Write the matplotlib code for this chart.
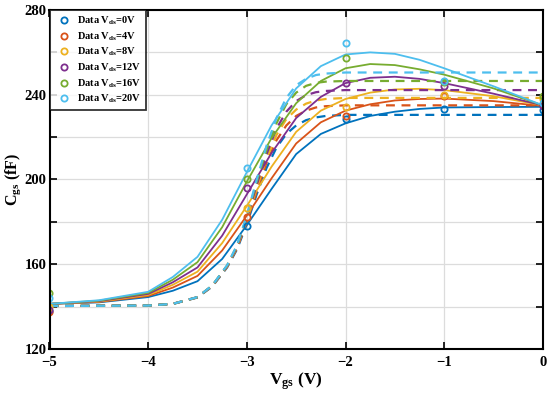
import matplotlib
matplotlib.use("Agg")
import matplotlib.pyplot as plt
import numpy as np

plt.rcParams['font.family'] = ['Liberation Serif', 'DejaVu Serif']
plt.rcParams['font.weight'] = 'bold'
plt.rcParams['mathtext.fontset'] = 'custom'
plt.rcParams['mathtext.rm'] = 'Liberation Serif:bold'
plt.rcParams['mathtext.it'] = 'Liberation Serif:bold'
plt.rcParams['mathtext.bf'] = 'Liberation Serif:bold'

# 六组 Vds
vds_labels = ['0V', '4V', '8V', '12V', '16V', '20V']
colors = ['#0072BD', '#D95319', '#EDB120', '#7E2F8E', '#77AC30', '#4DBEEE']

# 测量数据点
vgs_data = [-5, -3, -2, -1, 0]
cgs_data = [
    [138.0, 178.0, 228.4, 233.1, 233.0],
    [137.5, 182.5, 230.1, 239.4, 235.0],
    [139.7, 186.6, 234.1, 240.0, 238.0],
    [138.5, 196.0, 245.4, 244.0, 234.5],
    [146.3, 200.0, 257.4, 246.0, 239.4],
    [143.9, 205.3, 264.3, 246.5, 236.0],
]

# 实线 (拟合模型)
vgs_fit = [-5, -4.5, -4, -3.75, -3.5, -3.25, -3, -2.75, -2.5, -2.25, -2,
           -1.75, -1.5, -1.25, -1, -0.5, 0]
cgs_fit = [
    [141.3, 142.0, 144.5, 147.5, 152.0, 162.5, 178.5, 195.5, 212.0, 221.5, 226.5,
     230.0, 232.0, 233.3, 234.0, 234.2, 234.3],
    [141.3, 142.2, 145.0, 149.0, 154.5, 166.5, 183.0, 200.5, 217.0, 227.0, 232.5,
     235.5, 237.3, 238.0, 238.2, 237.0, 234.7],
    [141.3, 142.4, 145.5, 150.3, 156.5, 170.0, 187.5, 206.0, 222.5, 232.5, 238.0,
     241.0, 242.5, 242.8, 242.2, 239.3, 235.0],
    [141.3, 142.6, 146.0, 151.5, 158.5, 173.5, 193.0, 212.5, 229.0, 239.0, 245.5,
     248.0, 248.5, 247.5, 245.5, 240.5, 235.0],
    [141.3, 142.8, 146.5, 152.7, 161.0, 177.5, 199.0, 219.5, 236.0, 246.5, 252.5,
     254.5, 254.0, 252.0, 249.5, 243.0, 235.0],
    [141.3, 143.0, 147.0, 154.0, 163.5, 181.0, 203.5, 225.5, 243.0, 253.5, 259.0,
     260.0, 259.3, 256.5, 252.5, 244.0, 235.0],
]

# 虚线 (对比模型)
vgs_dash = [-5, -4, -3.75, -3.5, -3.35, -3.2, -3.1, -3, -2.9, -2.8, -2.7, -2.6,
            -2.5, -2.4, -2.3, -2.2, -2, -1, 0]
cgs_dash = [
    [140.3, 140.5, 141.3, 144.3, 149.5, 158.5, 167.0, 179.0, 193.0, 205.5, 215.0,
     221.5, 225.5, 228.0, 229.3, 230.0, 230.5, 230.5, 230.5],
    [140.3, 140.5, 141.3, 144.4, 149.7, 158.8, 167.5, 180.0, 194.5, 208.0, 218.5,
     225.5, 230.0, 232.5, 234.0, 234.6, 235.0, 235.0, 235.0],
    [140.3, 140.5, 141.3, 144.4, 149.8, 159.0, 168.0, 181.0, 196.0, 210.0, 221.0,
     228.5, 233.0, 235.8, 237.3, 238.0, 238.5, 238.5, 238.5],
    [140.3, 140.5, 141.3, 144.5, 149.9, 159.2, 168.3, 181.7, 197.5, 212.0, 224.0,
     232.0, 237.0, 239.8, 241.2, 241.8, 242.2, 242.2, 242.2],
    [140.3, 140.5, 141.3, 144.5, 150.0, 159.4, 168.7, 182.5, 199.0, 214.0, 226.5,
     235.5, 241.0, 244.2, 245.6, 246.2, 246.5, 246.5, 246.5],
    [140.3, 140.5, 141.3, 144.5, 150.0, 159.5, 169.0, 183.0, 200.0, 216.0, 229.0,
     238.5, 244.5, 247.5, 249.3, 250.0, 250.5, 250.5, 250.5],
]

fig = plt.figure(figsize=(5.5, 4), dpi=100)
ax = fig.add_axes([0.09, 0.1275, 0.897, 0.8475])

for i in range(6):
    ax.plot(vgs_fit, cgs_fit[i], '-', color=colors[i], lw=1.3)
    ax.plot(vgs_dash, cgs_dash[i], '--', color=colors[i], lw=1.6, dashes=(4, 3))
for i in range(6):
    ax.plot(vgs_data, cgs_data[i], 'o', mfc='none', mec=colors[i], mew=1.3, ms=4.5,
            label=f'Data V$_{{\\mathrm{{ds}}}}$={vds_labels[i]}')

ax.set_xlim(-5, 0)
ax.set_ylim(120, 280)
ax.set_xticks(np.arange(-5, 1, 1))
ax.set_xticklabels(['\u22125', '\u22124', '\u22123', '\u22122', '\u22121', '0'])
yt = np.arange(120, 281, 20)
ax.set_yticks(yt)
ax.set_yticklabels([str(v) if v % 40 == 0 else '' for v in yt])
ax.tick_params(direction='in', top=True, right=True, labelsize=10.5, width=1.2, length=5)
ax.tick_params(axis='y', pad=2)
ax.tick_params(axis='x', pad=5)
for lab in ax.get_xticklabels() + ax.get_yticklabels():
    lab.set_fontweight('bold')
ax.grid(True, color='#dcdcdc', lw=0.9)
ax.set_axisbelow(True)
for s in ax.spines.values():
    s.set_linewidth(1.5)

ax.set_xlabel('V$_{\\mathrm{gs}}$ (V)', fontsize=12.5, fontweight='bold', labelpad=1)
ax.set_ylabel('C$_{\\mathrm{gs}}$ (fF)', fontsize=11.5, fontweight='bold')
ax.yaxis.set_label_coords(-0.054, 0.5)

leg = ax.legend(loc='upper left', fontsize=7.5, frameon=True, fancybox=False,
                edgecolor='black', borderaxespad=0, handletextpad=0.4,
                labelspacing=0.3, handlelength=1.8, borderpad=0.45)
leg.get_frame().set_linewidth(1.3)
for t in leg.get_texts():
    t.set_fontweight('bold')

fig.savefig('out.png', dpi=100)
